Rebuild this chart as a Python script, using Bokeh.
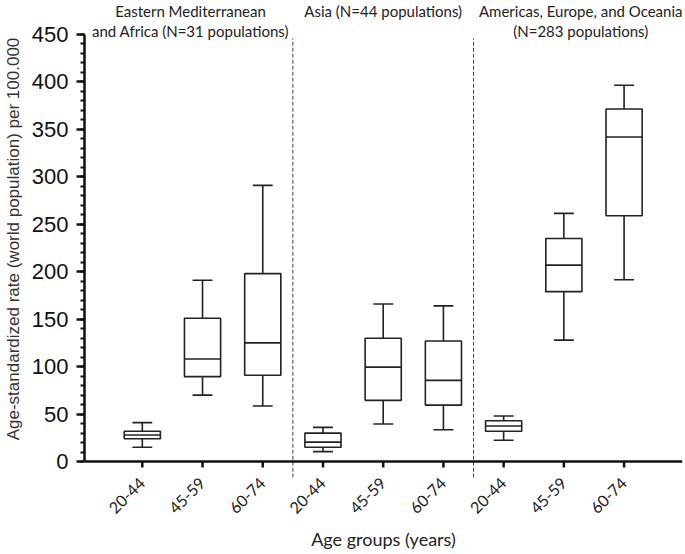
from bokeh.plotting import figure
from bokeh.models import Range1d, FixedTicker, SingleIntervalTicker, Span, ColumnDataSource
from bokeh.core.properties import value
from bokeh.embed import file_html
from bokeh.resources import INLINE
from math import pi

# ---- data ----
age_groups = ["20-44", "45-59", "60-74"]
title_lines = ["Eastern Mediterranean", "and Africa (N=31 populations)",
               "Asia (N=44 populations)",
               "Americas, Europe, and Oceania", "(N=283 populations)"]
title_x = [0.8, 0.8, 4, 7.28, 7.28]
title_y = [475, 454, 475, 475, 454]
whisker_low = [15, 70, 58.5, 10.5, 39.5, 33.5, 22.5, 128, 191.5]
q1 = [24, 89.5, 91, 15, 64.5, 59.5, 32, 179, 259]
median = [28, 108, 125, 20.5, 99.5, 85.5, 37.5, 207, 342]
q3 = [32, 151, 198, 30, 130, 127, 43, 235, 371.5]
whisker_high = [41, 191, 291, 36, 166, 164, 48, 261.5, 396.5]
separators = [2.5, 5.5]

n = len(median)
xs = list(range(n))
labels = [age_groups[i % 3] for i in xs]
box_w = 0.6
cap_w = 0.33

src = ColumnDataSource(dict(
    x=xs, q1=q1, q3=q3, med=median, lo=whisker_low, hi=whisker_high,
    bl=[x - box_w / 2 for x in xs], br=[x + box_w / 2 for x in xs],
    cl=[x - cap_w / 2 for x in xs], cr=[x + cap_w / 2 for x in xs],
    t0=[0] * n, t1=[-6.3] * n,
))

p = figure(width=683, height=552, output_backend="svg", toolbar_location=None,
           x_range=Range1d(-0.96, 8.97), y_range=Range1d(-16.8, 485.8),
           min_border_left=82, min_border_right=1, min_border_top=0, min_border_bottom=74)
p.outline_line_color = None
p.xgrid.grid_line_color = None
p.ygrid.grid_line_color = None
p.background_fill_color = "white"
p.border_fill_color = "white"

col = "#222222"
# separators (dashed)
p.segment(x0=separators, y0=[-17] * 2, x1=separators, y1=[446] * 2,
          line_color="#444444", line_width=1, line_dash="4 2")
# whiskers
p.segment(x0="x", y0="q3", x1="x", y1="hi", source=src, line_color=col, line_width=1.6)
p.segment(x0="x", y0="q1", x1="x", y1="lo", source=src, line_color=col, line_width=1.6)
p.segment(x0="cl", y0="hi", x1="cr", y1="hi", source=src, line_color=col, line_width=1.6)
p.segment(x0="cl", y0="lo", x1="cr", y1="lo", source=src, line_color=col, line_width=1.6)
# boxes
p.vbar(x="x", top="q3", bottom="q1", width=box_w, source=src,
       fill_color="white", line_color=col, line_width=1.6)
p.segment(x0="bl", y0="med", x1="br", y1="med", source=src, line_color=col, line_width=1.6)

# x axis line at y=0 and its ticks
p.add_layout(Span(location=0, dimension="width", line_color="#111111", line_width=2.5))
p.segment(x0="x", y0="t0", x1="x", y1="t1", source=src, line_color="#111111", line_width=2.5)

# region titles
p.text(x=title_x, y=title_y, text=title_lines, text_align="center", text_baseline="middle",
       text_font=value("Lato"), text_font_size="15px", text_color="#222222")

# y axis
ya = p.yaxis[0]
ya.bounds = (0, 450)
ya.ticker = SingleIntervalTicker(interval=50, num_minor_ticks=5)
ya.axis_line_width = 2.5
ya.axis_line_color = "#111111"
ya.major_tick_line_width = 2.5
ya.major_tick_line_color = "#111111"
ya.major_tick_out = 8
ya.major_tick_in = 0
ya.minor_tick_out = 4
ya.minor_tick_in = 0
ya.minor_tick_line_width = 2
ya.minor_tick_line_color = "#111111"
ya.major_label_text_font = "Liberation Sans"
ya.major_label_text_font_size = "22px"
ya.major_label_text_color = "#111111"
ya.major_label_standoff = 8
ya.axis_label = "Age-standardized rate (world population) per 100.000"
ya.axis_label_text_font = "Liberation Sans"
ya.axis_label_text_font_size = "17px"
ya.axis_label_text_font_style = "normal"
ya.axis_label_text_color = "#333333"
ya.axis_label_standoff = 6

# x axis (labels only; line and ticks drawn at y=0)
xa = p.xaxis[0]
xa.ticker = FixedTicker(ticks=xs)
xa.major_label_overrides = {i: labels[i] for i in xs}
xa.major_label_orientation = pi / 4
xa.axis_line_color = None
xa.major_tick_line_color = None
xa.major_tick_out = 0
xa.major_tick_in = 0
xa.minor_tick_line_color = None
xa.major_label_text_font = "Lato"
xa.major_label_text_font_size = "16px"
xa.major_label_text_color = "#222222"
xa.major_label_standoff = 3
xa.axis_label = "Age groups (years)"
xa.axis_label_text_font = "Lato"
xa.axis_label_text_font_size = "18px"
xa.axis_label_text_font_style = "normal"
xa.axis_label_text_color = "#222222"
xa.axis_label_standoff = 6

open("out.html", "w").write(file_html(p, INLINE))
